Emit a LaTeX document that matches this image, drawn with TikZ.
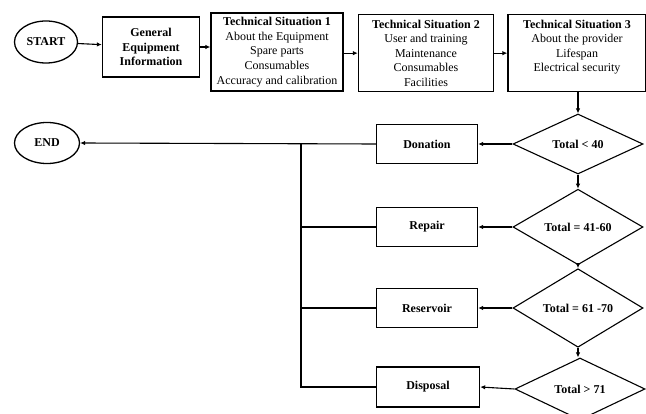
\documentclass[tikz,border=0pt]{standalone}
\usepackage{fontspec}
\setmainfont{Liberation Serif}
\usetikzlibrary{shapes.geometric,arrows.meta}
\begin{document}
\begin{tikzpicture}[x=1pt,y=-1pt,
  every node/.style={font=\fontsize{12}{14.6}\selectfont},
  bf/.style={font=\fontsize{12}{14.6}\selectfont\bfseries},
  oval/.style={draw,line width=1.3pt,ellipse,inner sep=0pt,bf},
  box/.style={draw,line width=1.3pt,rectangle,inner sep=0pt,align=center},
  dec/.style={draw,line width=1.1pt,diamond,inner sep=0pt,bf},
  conn/.style={line width=1.1pt},
  arr/.style={line width=1.1pt,-{Latex[length=5pt,width=4.5pt]}}]
\useasboundingbox (0,0) rectangle (646,414);
\clip (0,0) rectangle (646,414);
\node[oval,minimum width=63pt,minimum height=42pt] (start) at (46,42) {START};
\node[box,minimum width=97pt,minimum height=60pt,bf] (gen) at (151,47) {General\\Equipment\\Information};
\node[box,minimum width=132pt,minimum height=78pt] (ts1) at (277,52) {\textbf{Technical Situation 1}\\About the Equipment\\Spare parts\\Consumables\\Accuracy and calibration};
\node[box,minimum width=135pt,minimum height=77pt,anchor=north] (ts2) at (426,14) {\textbf{Technical Situation 2}\\User and training\\Maintenance\\Consumables\\Facilities};
\node[box,minimum width=138pt,minimum height=77pt,anchor=north] (ts3) at (577,14) {\textbf{Technical Situation 3}\\About the provider\\Lifespan\\Electrical security\\\phantom{X}};
\node[dec,minimum width=130pt,minimum height=60pt] (d1) at (578,144) {Total < 40};
\node[dec,minimum width=130pt,minimum height=62pt] (d2) at (578,227) {Total = 41-60};
\node[dec,minimum width=130pt,minimum height=62pt] (d3) at (578,308) {Total = 61 -70};
\node[dec,minimum width=130pt,minimum height=62pt] (d4) at (580,389) {Total > 71};
\node[box,minimum width=101pt,minimum height=39pt,bf] (don) at (427,144) {Donation};
\node[box,minimum width=101pt,minimum height=39pt,bf] (rep) at (427,227) {Repair};
\node[box,minimum width=101pt,minimum height=39pt,bf] (res) at (427,308) {Reservoir};
\node[box,minimum width=103pt,minimum height=40pt,bf] (dis) at (428,387) {Disposal};
\node[oval,minimum width=65pt,minimum height=41pt] (end) at (47,143) {END};
\coordinate (j1) at (301,144);
\coordinate (j4) at (301,387);
\draw[arr] (start) -- (gen);
\draw[arr] (gen.east) -- (ts1.west |- gen.east);
\draw[arr] (ts1.east |- ts2.east) -- (ts2.east -| ts2.west);
\draw[arr] (ts2) -- (ts3);
\draw[arr] (ts3.south -| d1.north) -- (d1.north);
\draw[arr] (d1) -- (d2);
\draw[arr] (d2) -- (d3);
\draw[arr] (d3.south) -- (d3.south |- d4.north);
\draw[arr] (d1) -- (don);
\draw[arr] (d2) -- (rep);
\draw[arr] (d3) -- (res);
\draw[arr] (d4.west) -- (dis.east);
\draw[arr] (don.west) -- (end.east);
\draw[conn] (j1) -- (j4) -- (dis.west);
\draw[conn] (rep.west) -- (rep.west -| j1);
\draw[conn] (res.west) -- (res.west -| j1);
\end{tikzpicture}
\end{document}
